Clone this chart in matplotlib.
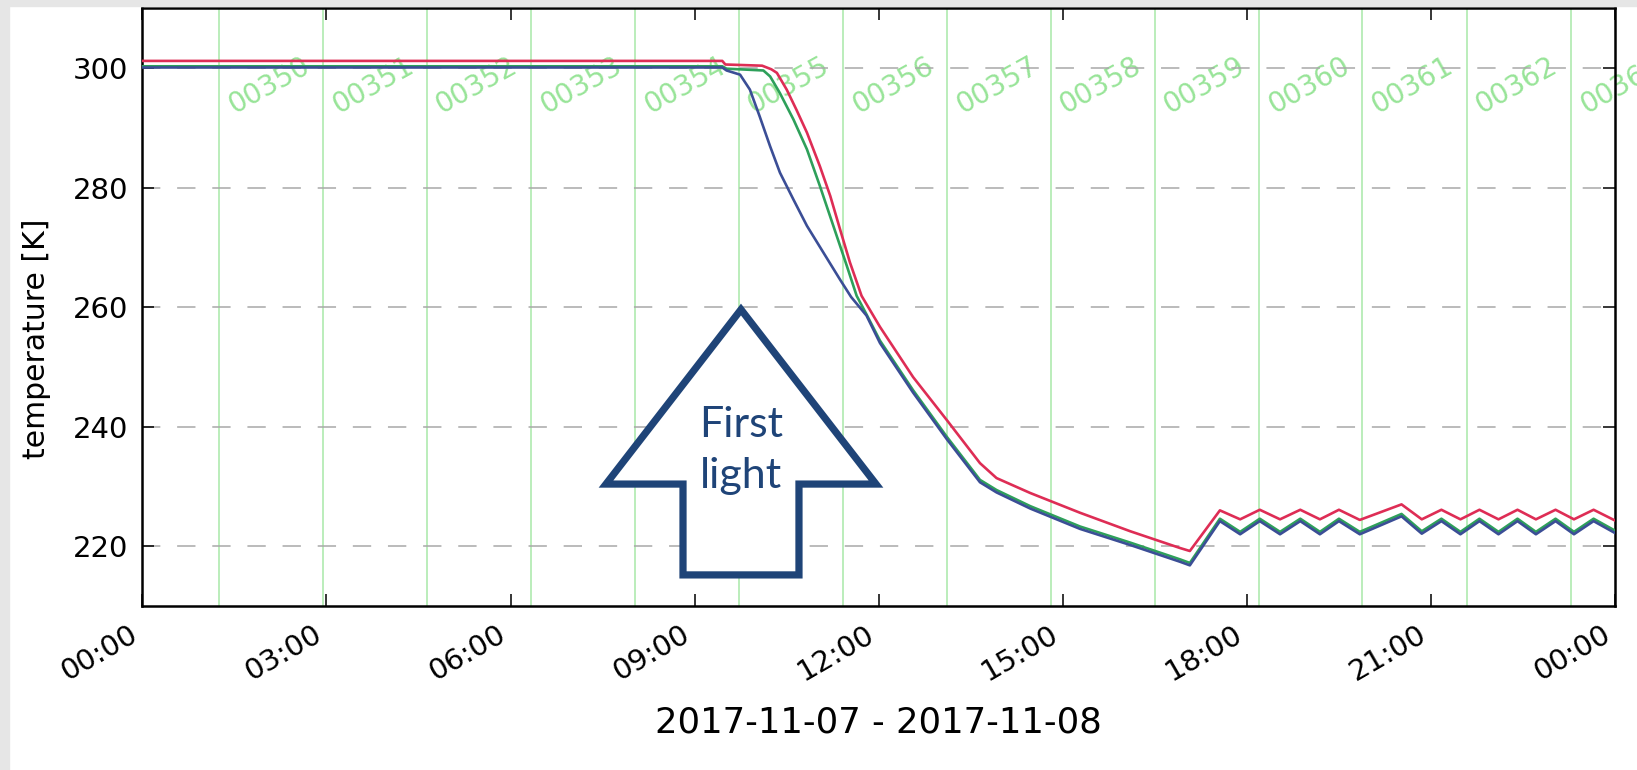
import matplotlib
matplotlib.use('Agg')
import matplotlib.pyplot as plt
import matplotlib.dates as mdates
from matplotlib.patches import FancyArrow, Rectangle
from datetime import datetime, timedelta

day0 = datetime(2017, 11, 7)

# hours after midnight and temperature [K]
red_h = [0.0, 9.45, 9.5, 10.1, 10.25, 10.34, 10.5, 10.66, 10.83, 11.04, 11.21, 11.37,
         11.53, 11.72, 12.02, 12.56, 13.11, 13.65, 13.92, 14.47, 15.28, 16.10, 16.91,
         17.07, 17.56, 17.89, 18.21, 18.54, 18.87, 19.19, 19.50, 19.84, 20.52, 20.85,
         21.17, 21.48, 21.79, 22.10, 22.41, 22.71, 23.03, 23.33, 23.65, 24.0]
red_T = [301.2, 301.2, 300.6, 300.4, 299.8, 299.2, 296.4, 293.0, 289.2, 283.6, 278.6, 273.0,
         267.5, 261.9, 256.7, 248.3, 241.1, 233.9, 231.4, 228.9, 225.6, 222.5, 219.7,
         219.2, 226.0, 224.5, 226.1, 224.5, 226.1, 224.5, 226.1, 224.4, 227.0, 224.5,
         226.1, 224.5, 226.1, 224.5, 226.1, 224.5, 226.1, 224.5, 226.1, 224.3]

green_h = [0.0, 9.45, 9.52, 10.12, 10.23, 10.39, 10.61, 10.83, 11.04, 11.26, 11.48, 11.64,
           11.8, 12.02, 12.56, 13.11, 13.65, 13.92, 14.47, 15.28, 16.10, 16.91, 17.07,
           17.56, 17.89, 18.21, 18.54, 18.87, 19.19, 19.50, 19.84, 20.52, 20.85, 21.17,
           21.48, 21.79, 22.10, 22.41, 22.71, 23.03, 23.33, 23.65, 24.0]
green_T = [300.3, 300.3, 299.9, 299.6, 298.6, 295.8, 291.4, 286.4, 280.3, 273.6, 266.9, 261.9,
           258.8, 254.4, 246.1, 238.3, 231.1, 229.4, 226.7, 223.3, 220.6, 217.8, 217.2,
           224.6, 222.4, 224.6, 222.4, 224.6, 222.4, 224.6, 222.4, 225.4, 222.5, 224.6,
           222.4, 224.6, 222.4, 224.6, 222.4, 224.6, 222.4, 224.6, 222.6]

blue_h = [0.0, 9.45, 9.52, 9.74, 9.9, 10.06, 10.23, 10.39, 10.61, 10.83, 11.10, 11.37,
          11.55, 11.8, 12.02, 12.56, 13.11, 13.65, 13.92, 14.47, 15.28, 16.10, 16.91, 17.07,
          17.56, 17.89, 18.21, 18.54, 18.87, 19.19, 19.50, 19.84, 20.52, 20.85, 21.17,
          21.48, 21.79, 22.10, 22.41, 22.71, 23.03, 23.33, 23.65, 24.0]
blue_T = [300.1, 300.1, 299.6, 298.9, 296.4, 291.9, 286.9, 282.5, 278.0, 273.6, 269.1, 264.6,
          261.7, 258.6, 254.0, 245.7, 237.9, 230.7, 229.0, 226.3, 222.9, 220.2, 217.4, 216.8,
          224.2, 222.0, 224.2, 222.0, 224.2, 222.0, 224.2, 222.0, 225.0, 222.1, 224.2,
          222.0, 224.2, 222.0, 224.2, 222.0, 224.2, 222.0, 224.2, 222.2]

orbit_times = ['01:15', '02:57', '04:38', '06:20', '08:02', '09:43', '11:25',
               '13:07', '14:48', '16:30', '18:12', '19:53', '21:35', '23:17']
orbit_ids = ['00350', '00351', '00352', '00353', '00354', '00355', '00356',
             '00357', '00358', '00359', '00360', '00361', '00362', '00363']


def to_dt(hours):
    return [day0 + timedelta(hours=h) for h in hours]


fig = plt.figure(figsize=(16.37, 7.70), dpi=100, facecolor='white')
# screenshot frame
fig.patches.append(Rectangle((0, 0), 9 / 1637, 1, transform=fig.transFigure,
                             color='#e6e6e6', zorder=0))
fig.patches.append(Rectangle((0, 1 - 6 / 770), 1, 6 / 770, transform=fig.transFigure,
                             color='#e6e6e6', zorder=0))

ax = fig.add_axes([0.0870, 0.2130, 0.8996, 0.7762])

for t, oid in zip(orbit_times, orbit_ids):
    hh, mm = map(int, t.split(':'))
    x = day0 + timedelta(hours=hh, minutes=mm)
    ax.axvline(x, color='#a8e8a8', lw=1.1, zorder=1)
    ax.text(x + timedelta(minutes=4), 291.4, oid, rotation=29, ha='left', va='bottom',
            color='#98e498', fontsize=20, zorder=1, clip_on=False)

ax.plot(to_dt(red_h), red_T, color='#de2d55', lw=1.9, zorder=3)
ax.plot(to_dt(green_h), green_T, color='#2ea05a', lw=1.9, zorder=3)
ax.plot(to_dt(blue_h), blue_T, color='#3b4e96', lw=1.9, zorder=3)

ax.set_xlim(day0, day0 + timedelta(days=1))
ax.set_ylim(210, 310)
ax.set_yticks([220, 240, 260, 280, 300])
ax.yaxis.grid(True, color='#a8a8a8', lw=1.1, dashes=(12, 11), zorder=0)
ax.xaxis.set_major_locator(mdates.HourLocator(byhour=range(0, 24, 3)))
ax.xaxis.set_major_formatter(mdates.DateFormatter('%H:%M'))
ax.tick_params(direction='in', length=8.5, width=1.1, top=True, right=True,
               labelsize=21, pad=10)
plt.setp(ax.get_xticklabels(), rotation=30, ha='right')
for sp in ax.spines.values():
    sp.set_linewidth(1.8)

ax.set_xlabel('2017-11-07 - 2017-11-08', fontsize=25.5, labelpad=14)
ax.set_ylabel('temperature [K]', fontsize=21.5)
ax.yaxis.set_label_coords(-0.062, 0.447)

# "First light" block arrow
navy = '#1f4478'
arrow = FancyArrow(9.755 / 24 + mdates.date2num(day0), 215.2, 0, 44.4,
                   width=1.89 / 24, head_width=4.4 / 24, head_length=29.2,
                   length_includes_head=True, facecolor='white', edgecolor=navy,
                   lw=5.2, joinstyle='miter', zorder=5)
ax.add_patch(arrow)
ax.text(mdates.date2num(day0) + 9.755 / 24, 236.0, 'First\nlight', ha='center', va='center',
        color=navy, fontsize=31, family='Lato', linespacing=1.4, zorder=6)

fig.savefig('out.png', dpi=100, facecolor=fig.get_facecolor())
